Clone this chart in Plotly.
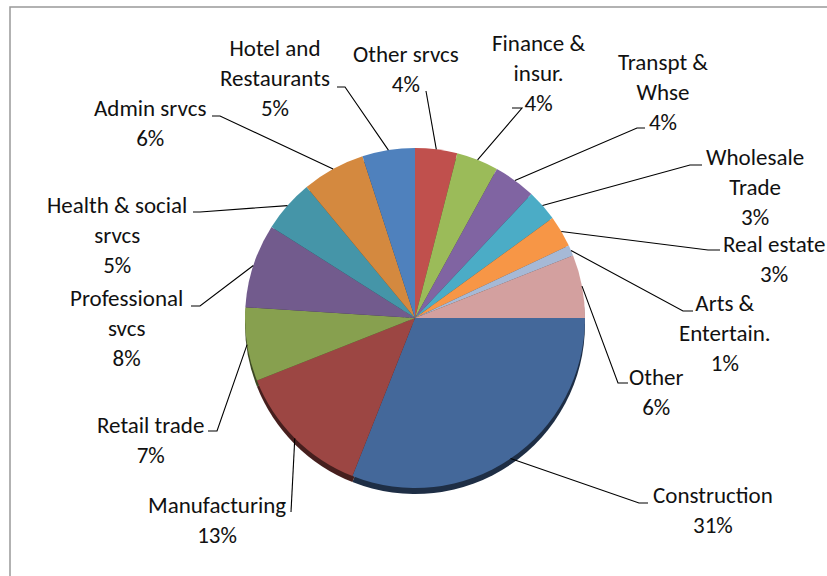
import plotly.graph_objects as go
import math

# ---- data ----
categories = ["Construction", "Manufacturing", "Retail trade", "Professional svcs",
              "Health & social srvcs", "Admin srvcs", "Hotel and Restaurants",
              "Other srvcs", "Finance & insur.", "Transpt & Whse", "Wholesale Trade",
              "Real estate", "Arts & Entertain.", "Other"]
shares = [31, 13, 7, 8, 5, 6, 5, 4, 4, 4, 3, 3, 1, 6]
label_lines = [["Construction"], ["Manufacturing"], ["Retail trade"], ["Professional", "svcs"],
               ["Health & social", "srvcs"], ["Admin srvcs"], ["Hotel and", "Restaurants"],
               ["Other srvcs"], ["Finance &", "insur."], ["Transpt &", "Whse"],
               ["Wholesale", "Trade"], ["Real estate"], ["Arts &", "Entertain."], ["Other"]]

# ---- styles / layout ----
colors = ["#44689A", "#9C4643", "#87A04F", "#725B8D", "#4595A8", "#D4893F", "#4F81BD",
          "#C0504D", "#9BBB59", "#8064A2", "#4BACC6", "#F79646", "#A6B9D6", "#D3A09F"]
W, H = 827, 576
CX, CY, R = 415, 318, 170
RIM = 6
# label block centres (px) and leader elbow / tick end (px)
label_pos = [(713, 510), (217, 520), (150, 440), (127, 328), (117, 235), (150, 123),
             (275, 78), (406, 69), (538, 73), (663, 92), (755, 187), (774, 259),
             (725, 333), (656, 392)]
elbows = [(639, 503), (291, 512), (217, 431), (200, 306), (200, 212), (220, 116),
          (345, 87), (426, 91), (522, 108), (637, 128), (690, 165), (708, 250),
          (683, 311), (618, 383)]
ticks = [(648, 503), None, (208, 431), (191, 306), (193, 212), (212, 116),
         (337, 87), None, (512, 108), (645, 128), (702, 165), (720, 250),
         (693, 311), (628, 383)]


def px(x):
    return x / W


def py(y):
    return 1 - y / H


def darker(hexc, f=0.45):
    r, g, b = int(hexc[1:3], 16), int(hexc[3:5], 16), int(hexc[5:7], 16)
    return "#%02x%02x%02x" % (int(r * f), int(g * f), int(b * f))


fig = go.Figure()
# 3D rim (same data, darker, slightly lower)
fig.add_trace(go.Pie(
    labels=categories, values=shares, sort=False, direction="clockwise", rotation=90,
    marker=dict(colors=[darker(c) for c in colors], line=dict(width=0)),
    textinfo="none", hoverinfo="skip", showlegend=False,
    domain=dict(x=[px(CX - R), px(CX + R)], y=[py(CY + R + RIM), py(CY - R + RIM)]),
))
fig.add_trace(go.Pie(
    labels=categories, values=shares, sort=False, direction="clockwise", rotation=90,
    marker=dict(colors=colors, line=dict(width=0)),
    textinfo="none", showlegend=False,
    domain=dict(x=[px(CX - R), px(CX + R)], y=[py(CY + R), py(CY - R)]),
))

total = sum(shares)
cum = 0
shapes = []
annotations = []
for i, v in enumerate(shares):
    mid = (cum + v / 2) / total * 2 * math.pi
    cum += v
    sx, sy = CX + R * math.cos(mid), CY + R * math.sin(mid)
    ex, ey = elbows[i]
    path = f"M {px(sx)},{py(sy)} L {px(ex)},{py(ey)}"
    if ticks[i] is not None:
        tx, ty = ticks[i]
        path += f" L {px(tx)},{py(ty)}"
    shapes.append(dict(type="path", path=path, xref="paper", yref="paper",
                       line=dict(color="black", width=1.1)))
    lx, ly = label_pos[i]
    text = "<br>".join(label_lines[i] + [f"{v}%"])
    annotations.append(dict(x=px(lx), y=py(ly), xref="paper", yref="paper",
                            text=text, showarrow=False, xanchor="center",
                            yanchor="middle", align="center",
                            font=dict(family="Carlito, Lato, sans-serif", size=23,
                                      color="#111111")))

shapes.append(dict(type="rect", xref="paper", yref="paper",
                   x0=px(10), y0=-0.05, x1=1.05, y1=py(7),
                   line=dict(color="#999999", width=1.5)))

fig.update_layout(
    width=W, height=H, margin=dict(l=0, r=0, t=0, b=0),
    paper_bgcolor="white", plot_bgcolor="white",
    shapes=shapes, annotations=annotations,
)
fig.write_html("out.html")
